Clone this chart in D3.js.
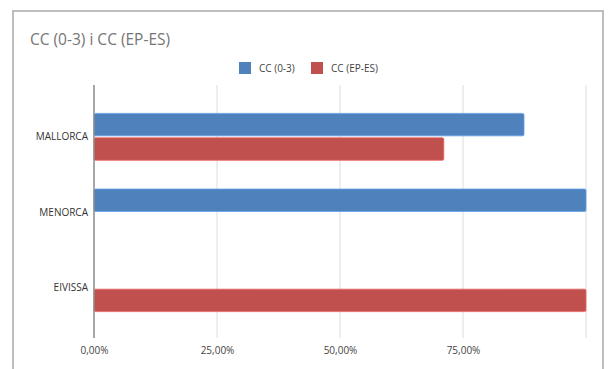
<!DOCTYPE html>
<html><head><meta charset="utf-8">
<script src="https://cdn.jsdelivr.net/npm/d3@7"></script>
<style>body{margin:0;background:#fff;}svg{display:block;font-family:"Open Sans",sans-serif;}</style>
</head><body>
<svg id="c" width="608" height="369"></svg>
<script>
const categories = ["MALLORCA", "MENORCA", "EIVISSA"];
const seriesNames = ["CC (0-3)", "CC (EP-ES)"];
const cc03 = [0.874, 1.0, 0];
const ccEPES = [0.711, 0, 1.0];
const tickValues = [0, 0.25, 0.5, 0.75, 1.0];
const tickLabels = ["0,00%", "25,00%", "50,00%", "75,00%", ""];
const colors = ["#4f81bd", "#c0504d"];

const svg = d3.select("#c");
svg.append("rect").attr("x", 13).attr("y", 11).attr("width", 590).attr("height", 370)
  .attr("fill", "#fff").attr("stroke", "#bdbdbd").attr("stroke-width", 2);

svg.append("text").attr("x", 30).attr("y", 45).attr("font-size", 15.5).attr("fill", "#757575")
  .text("CC (0-3) i CC (EP-ES)");

const x = d3.scaleLinear().domain([0, 1]).range([94, 586]);
const y = d3.scaleBand().domain(categories).range([99, 326]);
const bw = y.bandwidth();
const ys = d3.scaleBand().domain(seriesNames).range([bw * 0.19, bw * 0.81]).paddingInner(0.08);

svg.append("g").selectAll("line").data(tickValues.slice(1)).join("line")
  .attr("x1", d => x(d)).attr("x2", d => x(d)).attr("y1", 85).attr("y2", 338)
  .attr("stroke", "#dcdcdc").attr("stroke-width", 1);

const data = [cc03, ccEPES];
const g = svg.append("g");
seriesNames.forEach((s, si) => {
  g.append("g").selectAll("rect").data(categories.map((c, i) => ({c, v: data[si][i]})).filter(d => d.v > 0))
    .join("rect")
    .attr("x", x(0)).attr("y", d => y(d.c) + ys(s))
    .attr("width", d => x(d.v) - x(0)).attr("height", ys.bandwidth())
    .attr("rx", 1.5)
    .attr("fill", colors[si]).attr("stroke", d3.color(colors[si]).brighter(0.6)).attr("stroke-width", 0.8);
});

svg.append("line").attr("x1", x(0)).attr("x2", x(0)).attr("y1", 85).attr("y2", 338)
  .attr("stroke", "#8a8a8a").attr("stroke-width", 1.5);

const xAxis = d3.axisBottom(x).tickValues(tickValues).tickFormat((d, i) => tickLabels[i]).tickSize(0).tickPadding(0);
const xa = svg.append("g").attr("transform", "translate(0,347)").call(xAxis);
xa.select(".domain").remove();
xa.selectAll("text").attr("font-size", 10).attr("fill", "#444").attr("font-family", "Open Sans, sans-serif");

const yAxis = d3.axisLeft(y).tickSize(0).tickPadding(0);
const ya = svg.append("g").attr("transform", "translate(88,0)").call(yAxis);
ya.select(".domain").remove();
ya.selectAll("text").attr("font-size", 10).attr("fill", "#333").attr("font-family", "Open Sans, sans-serif").attr("dy", "0.32em");

const leg = svg.append("g");
const legX = [239, 311];
seriesNames.forEach((s, i) => {
  leg.append("rect").attr("x", legX[i]).attr("y", 62).attr("width", 12).attr("height", 12).attr("fill", colors[i]);
  leg.append("text").attr("x", legX[i] + 20).attr("y", 68).attr("dy", "0.35em")
    .attr("font-size", 10).attr("fill", "#444").text(s);
});
</script>
</body></html>
